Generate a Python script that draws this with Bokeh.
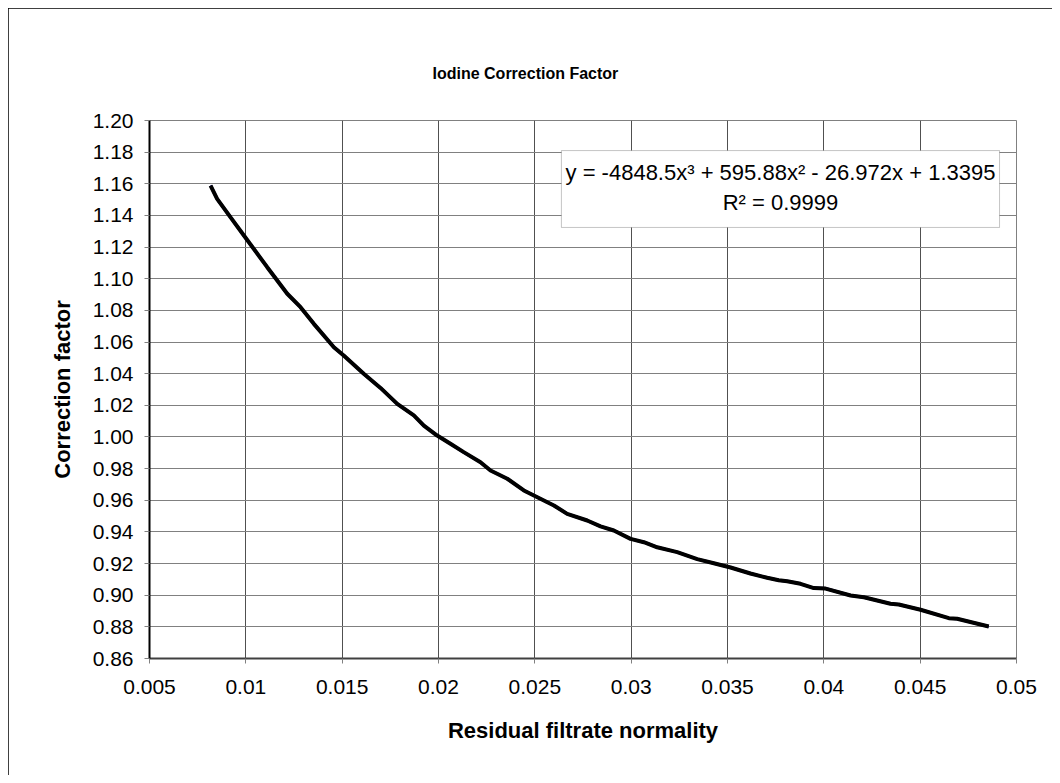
from bokeh.plotting import figure
from bokeh.models import Range1d, FixedTicker, Label, BoxAnnotation
from bokeh.embed import file_html
from bokeh.resources import INLINE

# ---- data ----
normality = [0.00817, 0.00851, 0.0092, 0.0099, 0.01111, 0.01215, 0.01284, 0.01353, 0.01457,
             0.01508, 0.01612, 0.01699, 0.01786, 0.01872, 0.01924, 0.01993, 0.02062, 0.02131,
             0.02218, 0.02270, 0.02357, 0.02443, 0.02495, 0.02599, 0.02668, 0.02772, 0.02841,
             0.0291, 0.02997, 0.03066, 0.03135, 0.03239, 0.03343, 0.03429, 0.03516, 0.03619,
             0.03706, 0.03766, 0.03810, 0.03879, 0.03948, 0.04009, 0.04139, 0.04208, 0.04346,
             0.04389, 0.04502, 0.04649, 0.04692, 0.04856]
correction = [1.1589, 1.1505, 1.1389, 1.1273, 1.1073, 1.0905, 1.0820, 1.0715, 1.0567,
              1.0515, 1.0399, 1.0310, 1.0209, 1.0136, 1.0072, 1.0009, 0.9957, 0.9904,
              0.9840, 0.9788, 0.9736, 0.9662, 0.9630, 0.9567, 0.9514, 0.9472, 0.9435,
              0.9409, 0.9356, 0.9335, 0.9303, 0.9272, 0.9228, 0.9202, 0.9175, 0.9137,
              0.9110, 0.9095, 0.9088, 0.9072, 0.9045, 0.9042, 0.8998, 0.8987, 0.8946,
              0.8941, 0.8908, 0.8855, 0.8851, 0.8802]

x_ticks = [0.005, 0.01, 0.015, 0.02, 0.025, 0.03, 0.035, 0.04, 0.045, 0.05]
x_tick_labels = ["0.005", "0.01", "0.015", "0.02", "0.025", "0.03", "0.035", "0.04", "0.045", "0.05"]
y_ticks = [0.86, 0.88, 0.90, 0.92, 0.94, 0.96, 0.98, 1.00, 1.02, 1.04, 1.06, 1.08,
           1.10, 1.12, 1.14, 1.16, 1.18, 1.20]
y_tick_labels = ["0.86", "0.88", "0.90", "0.92", "0.94", "0.96", "0.98", "1.00", "1.02",
                 "1.04", "1.06", "1.08", "1.10", "1.12", "1.14", "1.16", "1.18", "1.20"]

title_text = "Iodine Correction Factor"
x_title = "Residual filtrate normality"
y_title = "Correction factor"
equation_text = "y = -4848.5x³ + 595.88x² - 26.972x + 1.3395"
r2_text = "R² = 0.9999"

FONT = "Liberation Sans"

p = figure(width=1044, height=767, output_backend="svg", toolbar_location=None,
           x_range=Range1d(0.005, 0.05), y_range=Range1d(0.86, 1.20),
           min_border_left=141, min_border_right=36, min_border_top=112, min_border_bottom=117)
p.styles = {"margin": "8px", "outline": "1px solid black", "outline-offset": "-1px"}
p.background_fill_color = "white"
p.border_fill_color = "white"
p.outline_line_color = "#808080"
p.outline_line_width = 1

# title
p.title.text = title_text
p.title.text_font = FONT
p.title.text_font_size = "16px"
p.title.text_font_style = "bold"
p.title.text_color = "black"
p.title.align = "left"
p.title.offset = 283
p.title.standoff = 78

# axes
for ax in (p.xaxis[0], p.yaxis[0]):
    ax.major_label_text_font = FONT
    ax.major_label_text_font_size = "21px"
    ax.major_label_text_color = "black"
    ax.axis_label_text_font = FONT
    ax.axis_label_text_font_size = "22px"
    ax.axis_label_text_font_style = "bold"
    ax.axis_label_text_color = "black"
    ax.major_tick_in = 0
    ax.major_tick_out = 5
    ax.major_tick_line_color = "#808080"
    ax.minor_tick_line_color = None
    ax.axis_line_width = 2

p.xaxis[0].ticker = FixedTicker(ticks=x_ticks)
p.xaxis[0].major_label_overrides = dict(zip(x_ticks, x_tick_labels))
p.xaxis[0].axis_label = x_title
p.xaxis[0].major_label_standoff = 16
p.xaxis[0].axis_label_standoff = 21
p.xaxis[0].axis_line_color = "#404040"

p.yaxis[0].ticker = FixedTicker(ticks=y_ticks)
p.yaxis[0].major_label_overrides = dict(zip(y_ticks, y_tick_labels))
p.yaxis[0].axis_label = y_title
p.yaxis[0].major_label_standoff = 11
p.yaxis[0].axis_label_standoff = 15
p.yaxis[0].axis_line_color = "black"

p.xgrid.ticker = FixedTicker(ticks=x_ticks)
p.ygrid.ticker = FixedTicker(ticks=y_ticks)
p.xgrid.grid_line_color = "#505050"
p.ygrid.grid_line_color = "#808080"
p.xgrid.grid_line_width = 1
p.ygrid.grid_line_width = 1

# data curve
p.line(normality, correction, line_color="#000080", line_width=3)
p.line(normality, correction, line_color="black", line_width=4)

# equation box
box = BoxAnnotation(left=0.02638, right=0.04912, top=1.181, bottom=1.1324,
                    fill_color="white", fill_alpha=1.0, line_color="#404040", line_width=1)
p.add_layout(box)
p.add_layout(Label(x=0.03775, y=1.1671, text=equation_text, text_align="center",
                   text_baseline="middle", text_font=FONT, text_font_size="22px",
                   text_color="black"))
p.add_layout(Label(x=0.03775, y=1.1481, text=r2_text, text_align="center",
                   text_baseline="middle", text_font=FONT, text_font_size="22px",
                   text_color="black"))

open("out.html", "w").write(file_html(p, INLINE))
